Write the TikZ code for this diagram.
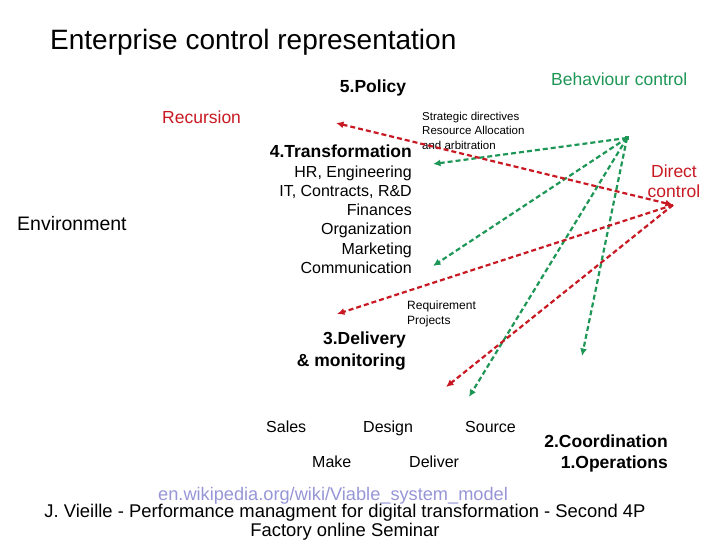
\documentclass[tikz,border=0pt]{standalone}
\usepackage{fontspec}
\setmainfont{Liberation Sans}
\usetikzlibrary{arrows.meta}
\definecolor{vgreen}{RGB}{30,150,85}
\definecolor{vred}{RGB}{200,25,35}
\definecolor{vlink}{RGB}{150,150,215}
\begin{document}
\begin{tikzpicture}[x=1pt,y=-1pt,
  txt/.style={inner sep=0pt, font=\fontsize{16}{19.2}\selectfont},
  small/.style={inner sep=0pt, font=\fontsize{11.5}{14.5}\selectfont, align=left},
  head/.style={inner sep=0pt, font=\bfseries\fontsize{17.5}{21.5}\selectfont},
  clab/.style={inner sep=0pt, font=\fontsize{17.5}{20}\selectfont},
  garrow/.style={vgreen, line width=2.2pt, dash pattern=on 5pt off 3pt, -{Latex[length=7.5pt,width=7pt]}},
  rarrow/.style={vred, line width=2.2pt, dash pattern=on 5pt off 3pt, -{Latex[length=7.5pt,width=7pt]}}
]
\useasboundingbox (0,0) rectangle (720,540);

% title
\node[inner sep=0pt, anchor=west, font=\fontsize{28}{30}\selectfont] (title) at (50,42) {Enterprise control representation};

% headings and labels
\node[head, anchor=center] (policy) at (373,88) {5.Policy};
\node[clab, anchor=west, text=vgreen] (behav) at (551,79) {Behaviour control};
\node[clab, anchor=west, text=vred] (recur) at (162,117) {Recursion};
\node[small, anchor=west] (strat) at (422,130.5) {Strategic directives\\Resource Allocation\\and arbitration};
\node[head, anchor=east] (transf) at (412,151) {4.Transformation};
\node[txt, anchor=east, align=right] (hrlist) at (412,219.5) {HR, Engineering\\IT, Contracts, R\&D\\Finances\\Organization\\Marketing\\Communication};
\node[inner sep=0pt, anchor=west, font=\fontsize{19.5}{22}\selectfont] (env) at (17,224) {Environment};
\node[clab, align=center, text=vred] (direct) at (674,181) {Direct\\control};
\node[inner sep=0pt, font=\fontsize{12}{15}\selectfont, align=left, anchor=west] (req) at (407,313.5) {Requirement\\Projects};
\node[head, anchor=east, align=right] (deliv) at (406,351) {3.Delivery\\\& monitoring};
\node[txt, anchor=base west] (sales) at (266,432) {Sales};
\node[txt, anchor=base west] (design) at (363,432) {Design};
\node[txt, anchor=base west] (source) at (465,432) {Source};
\node[txt, anchor=base west] (make) at (312,467) {Make};
\node[txt, anchor=base west] (deliver) at (409,467) {Deliver};
\node[head, anchor=east, align=right] (coord) at (668,453.5) {2.Coordination\\1.Operations};

% footer
\node[inner sep=0pt, anchor=west, text=vlink, font=\fontsize{18.2}{20}\selectfont] (link) at (158,496) {en.wikipedia.org/wiki/Viable\_system\_model};
\node[inner sep=0pt, align=center, font=\fontsize{18.4}{19.5}\selectfont] (footer) at (345,522) {J. Vieille - Performance managment for digital transformation - Second 4P\\Factory online Seminar};

% connector end points
\node[fill=vgreen, minimum size=4pt, inner sep=0pt] (ghub) at (627,138) {};
\coordinate (g1) at (433,164);
\coordinate (g2) at (433,266);
\coordinate (g3) at (469,397);
\coordinate (g4) at (582,356);
\coordinate (rhub) at (673,205);
\coordinate (r0) at (336,123);
\coordinate (r1) at (337,314);
\coordinate (r2) at (446,387);

% green connectors
\draw[garrow] (ghub.center) -- (g1);
\draw[garrow] (ghub.center) -- (g2);
\draw[garrow] (ghub.center) -- (g3);
\draw[garrow] (ghub.center) -- (g4);

% red connectors
\draw[rarrow, {Latex[length=7.5pt,width=7pt]}-{Latex[length=7.5pt,width=7pt]}] (r0) -- (rhub);
\draw[rarrow] (rhub) -- (r1);
\draw[rarrow] (rhub) -- (r2);
\end{tikzpicture}
\end{document}
